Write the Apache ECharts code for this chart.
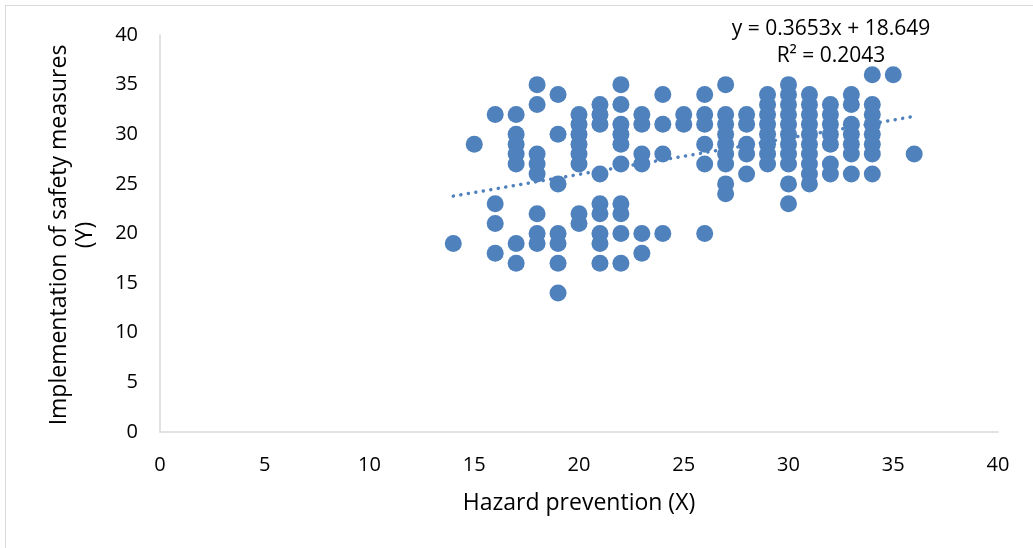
<!DOCTYPE html>
<html>
<head>
<meta charset="utf-8">
<script src="https://cdn.jsdelivr.net/npm/echarts@6/dist/echarts.min.js"></script>
<style>
  html, body { margin: 0; padding: 0; background: #fff; overflow: hidden; }
  #frame { position: absolute; left: 5px; top: 5px; width: 1060px; height: 580px; border: 1.5px solid #d9d9d9; box-sizing: border-box; }
  #chart { position: absolute; left: 0; top: 0; width: 1033px; height: 548px; }
</style>
</head>
<body>
<div id="frame"></div>
<div id="chart"></div>
<script>
// Hazard prevention (X) values, and the Implementation of safety measures (Y) values observed at each X
const hazardX = [14, 15, 16, 17, 18, 19, 20, 21, 22, 23, 24, 25, 26, 27, 28, 29, 30, 31, 32, 33, 34, 35, 36];
const safetyYAtX = [
  [19],
  [29],
  [32, 23, 21, 18],
  [32, 30, 29, 28, 27, 19, 17],
  [35, 33, 28, 27, 26, 22, 20, 19],
  [34, 30, 25, 20, 19, 17, 14],
  [32, 31, 30, 29, 28, 27, 22, 21],
  [33, 32, 31, 26, 23, 22, 20, 19, 17],
  [35, 33, 31, 30, 29, 27, 23, 22, 20, 17],
  [32, 31, 28, 27, 20, 18],
  [34, 31, 28, 20],
  [32, 31],
  [34, 32, 31, 29, 27, 20],
  [35, 32, 31, 30, 29, 28, 27, 25, 24],
  [32, 31, 29, 28, 26],
  [34, 33, 32, 31, 30, 29, 28, 27],
  [35, 34, 33, 32, 31, 30, 29, 28, 27, 25, 23],
  [34, 33, 32, 31, 30, 29, 28, 27, 26, 25],
  [33, 32, 31, 30, 29, 27, 26],
  [34, 33, 31, 30, 29, 28, 26],
  [36, 33, 32, 31, 30, 29, 28, 26],
  [36],
  [28]
];
// Linear trendline as labelled on the chart
const trendSlope = 0.3653;
const trendIntercept = 18.649;
const trendRSquared = 0.2043;
const trendXRange = [14, 36];
const xTicks = [0, 40, 5];   // min, max, interval
const yTicks = [0, 40, 5];

const points = [];
hazardX.forEach((x, i) => safetyYAtX[i].forEach(y => points.push([x, y])));
const trendPoints = trendXRange.map(x => [x, trendIntercept + trendSlope * x]);

const FONT = '"Open Sans", "Noto Sans", sans-serif';
const BLUE = '#4f81bd';

const chart = echarts.init(document.getElementById('chart'), null, { renderer: 'canvas' });
chart.setOption({
  animation: false,
  backgroundColor: 'transparent',
  grid: { left: 160, top: 35, width: 838, height: 397, containLabel: false },
  xAxis: {
    type: 'value', min: xTicks[0], max: xTicks[1], interval: xTicks[2],
    name: 'Hazard prevention (X)', nameLocation: 'middle', nameGap: 60,
    nameTextStyle: { fontFamily: FONT, fontSize: 23, color: '#000' },
    axisLine: { show: true, lineStyle: { color: '#d9d9d9', width: 1.5 } },
    axisTick: { show: false },
    splitLine: { show: false },
    axisLabel: { fontFamily: FONT, fontSize: 20, color: '#000', margin: 23 }
  },
  yAxis: {
    type: 'value', min: yTicks[0], max: yTicks[1], interval: yTicks[2],
    axisLine: { show: true, lineStyle: { color: '#d9d9d9', width: 1.5 } },
    axisTick: { show: false },
    splitLine: { show: false },
    axisLabel: { fontFamily: FONT, fontSize: 20, color: '#000', margin: 22 }
  },
  graphic: [
    {
      type: 'text', x: 72, y: 235, rotation: Math.PI / 2,
      style: {
        text: 'Implementation of safety measures\n(Y)',
        fontFamily: FONT, fontSize: 23, lineHeight: 26, fill: '#000',
        align: 'center', verticalAlign: 'middle'
      }
    },
    {
      type: 'text', x: 831, y: 29,
      style: {
        text: 'y = ' + trendSlope + 'x + ' + trendIntercept,
        fontFamily: FONT, fontSize: 21, fill: '#000', align: 'center', verticalAlign: 'middle'
      }
    },
    {
      type: 'text', x: 831, y: 56,
      style: {
        text: 'R² = ' + trendRSquared,
        fontFamily: FONT, fontSize: 21, fill: '#000', align: 'center', verticalAlign: 'middle'
      }
    }
  ],
  series: [
    {
      type: 'scatter', data: points, symbol: 'circle', symbolSize: 17,
      itemStyle: { color: BLUE, opacity: 1 }, z: 2
    },
    {
      type: 'line', data: trendPoints, symbol: 'none', silent: true,
      lineStyle: { color: BLUE, width: 3.5, type: [0.1, 7.5], cap: 'round' }, z: 3
    }
  ]
});
</script>
</body>
</html>
